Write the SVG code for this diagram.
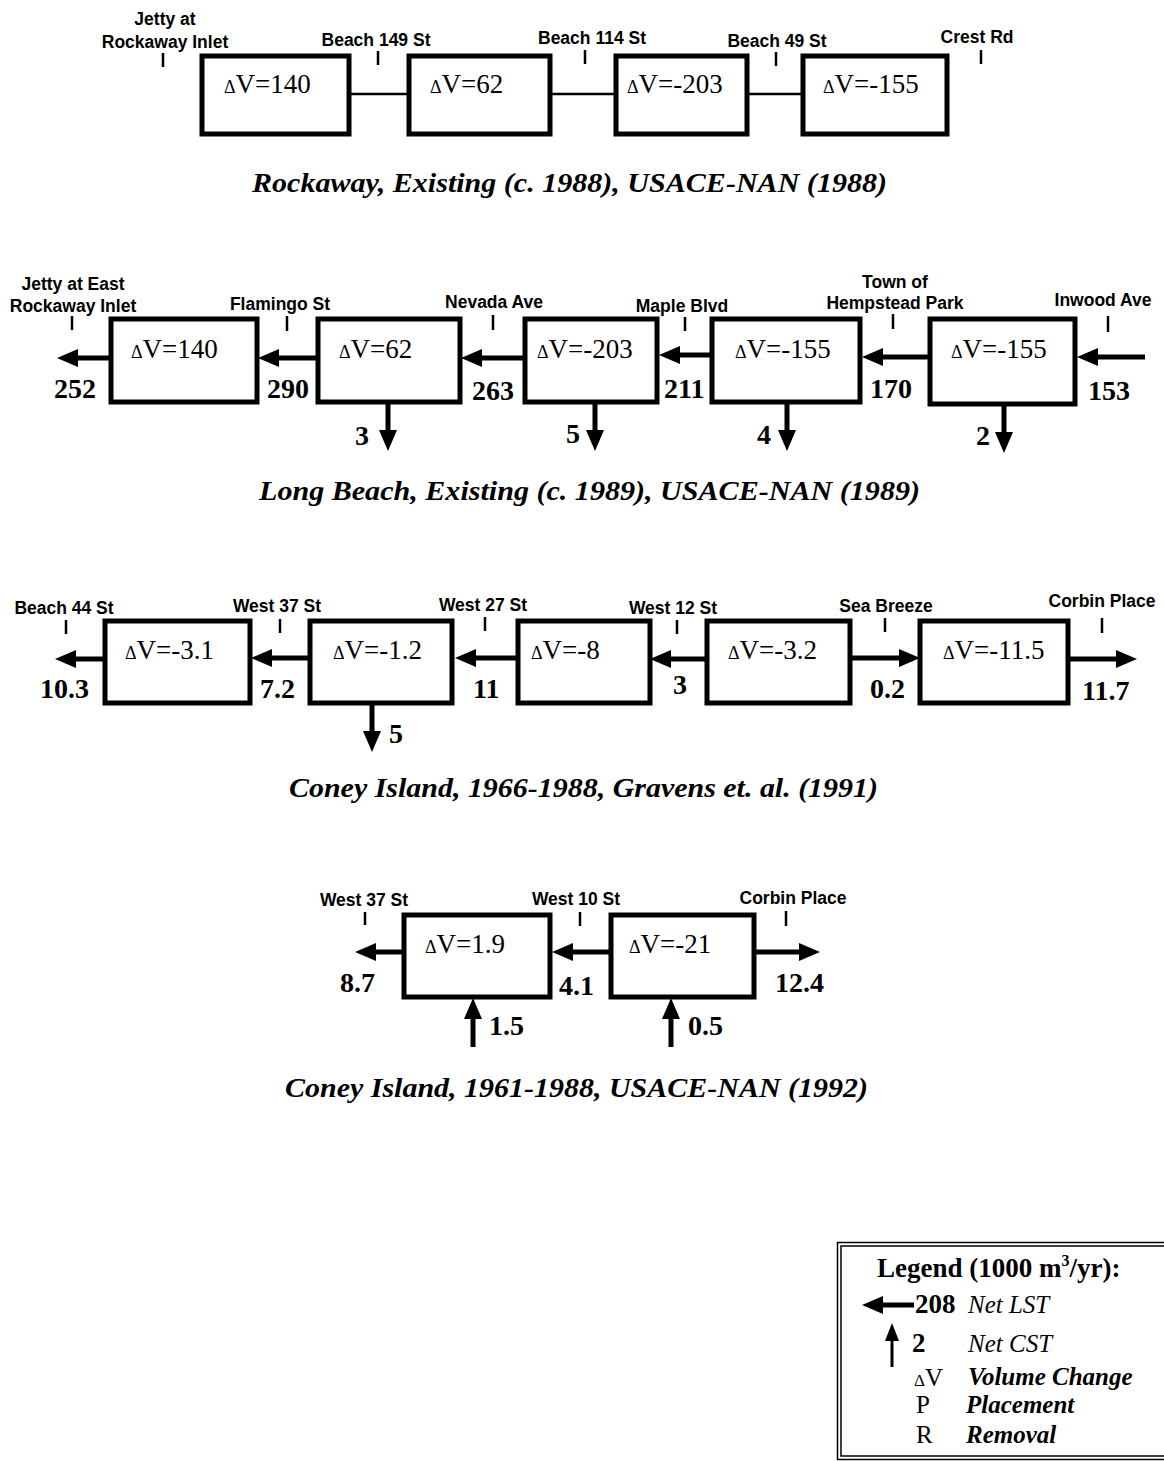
<svg xmlns="http://www.w3.org/2000/svg" width="1164" height="1461" viewBox="0 0 1164 1461">
<style>
.lbl{font-family:"Liberation Sans",Arial,sans-serif;font-weight:bold;font-size:17.5px;fill:#000;text-anchor:middle}
.dv{font-family:"Liberation Serif","Times New Roman",serif;font-size:27px;fill:#000}
.d{font-size:18px}
.num{font-family:"Liberation Serif","Times New Roman",serif;font-weight:bold;font-size:28px;fill:#000}
.title{font-family:"Liberation Serif","Times New Roman",serif;font-weight:bold;font-style:italic;font-size:27px;fill:#000;text-anchor:middle}
.box{fill:#fff;stroke:#000;stroke-width:5}
.tick{stroke:#000;stroke-width:2.5}
.link{stroke:#000;stroke-width:2.5;fill:none}
.arr{stroke:#000;stroke-width:5;fill:none;marker-end:url(#ah)}
.leg{font-family:"Liberation Serif","Times New Roman",serif;fill:#000}
</style>
<defs>
<marker id="ah" markerUnits="userSpaceOnUse" markerWidth="24" markerHeight="20" refX="3" refY="9" orient="auto">
<path d="M0,0 L21,9 L0,18 z" fill="#000"/>
</marker>
<marker id="ahs" markerUnits="userSpaceOnUse" markerWidth="20" markerHeight="16" refX="2" refY="7" orient="auto">
<path d="M0,0 L18,7 L0,14 z" fill="#000"/>
</marker>
</defs>

<!-- ===== Section 1: Rockaway ===== -->
<g id="rockaway-labels">
<text class="lbl" x="165" y="25">Jetty at</text>
<text class="lbl" x="165" y="48">Rockaway Inlet</text>
<line class="tick" x1="163" y1="53" x2="163" y2="67"/>
<text class="lbl" x="376" y="46">Beach 149 St</text>
<line class="tick" x1="378" y1="51" x2="378" y2="65"/>
<text class="lbl" x="592" y="44">Beach 114 St</text>
<line class="tick" x1="585" y1="50" x2="585" y2="64"/>
<text class="lbl" x="777" y="47">Beach 49 St</text>
<line class="tick" x1="776" y1="52" x2="776" y2="66"/>
<text class="lbl" x="977" y="43">Crest Rd</text>
<line class="tick" x1="981" y1="50" x2="981" y2="64"/>
</g>
<g id="rockaway-connectors">
<line class="link" x1="349" y1="94" x2="409" y2="94"/>
<line class="link" x1="550" y1="94" x2="616" y2="94"/>
<line class="link" x1="747" y1="94" x2="803" y2="94"/>
</g>
<g id="r-box1"><rect class="box" x="202" y="56" width="147" height="78"/><text class="dv" x="224" y="93"><tspan class="d">Δ</tspan>V=140</text></g>
<g id="r-box2"><rect class="box" x="409" y="56" width="141" height="78"/><text class="dv" x="430" y="93"><tspan class="d">Δ</tspan>V=62</text></g>
<g id="r-box3"><rect class="box" x="616" y="56" width="131" height="78"/><text class="dv" x="627" y="93"><tspan class="d">Δ</tspan>V=-203</text></g>
<g id="r-box4"><rect class="box" x="803" y="56" width="144" height="78"/><text class="dv" x="823" y="93"><tspan class="d">Δ</tspan>V=-155</text></g>
<text class="title" x="569.5" y="192" textLength="635" lengthAdjust="spacingAndGlyphs">Rockaway, Existing (c. 1988), USACE-NAN (1988)</text>

<!-- ===== Section 2: Long Beach ===== -->
<g id="lb-labels">
<text class="lbl" x="73" y="290">Jetty at East</text>
<text class="lbl" x="73" y="312">Rockaway Inlet</text>
<line class="tick" x1="72" y1="316" x2="72" y2="330"/>
<text class="lbl" x="280" y="310">Flamingo St</text>
<line class="tick" x1="287" y1="316" x2="287" y2="331"/>
<text class="lbl" x="494" y="308">Nevada Ave</text>
<line class="tick" x1="493" y1="315" x2="493" y2="330"/>
<text class="lbl" x="682" y="312">Maple Blvd</text>
<line class="tick" x1="685" y1="317" x2="685" y2="331"/>
<text class="lbl" x="895" y="288">Town of</text>
<text class="lbl" x="895" y="309">Hempstead Park</text>
<line class="tick" x1="893" y1="314" x2="893" y2="329"/>
<text class="lbl" x="1103" y="306">Inwood Ave</text>
<line class="tick" x1="1108" y1="316" x2="1108" y2="332"/>
</g>
<g id="lb-connectors">
<line class="arr" x1="110" y1="358" x2="75" y2="358"/>
<line class="arr" x1="318" y1="358" x2="276" y2="358"/>
<line class="arr" x1="525" y1="358" x2="479" y2="358"/>
<line class="arr" x1="712" y1="355" x2="677" y2="355"/>
<line class="arr" x1="930" y1="357" x2="880" y2="357"/>
<line class="arr" x1="1145" y1="357" x2="1095" y2="357"/>
<line class="arr" x1="388" y1="402" x2="388" y2="433"/>
<line class="arr" x1="595" y1="402" x2="595" y2="433"/>
<line class="arr" x1="787" y1="402" x2="787" y2="433"/>
<line class="arr" x1="1004" y1="404" x2="1004" y2="435"/>
</g>
<g id="lb-numbers">
<text class="num" x="54" y="398">252</text>
<text class="num" x="267" y="398">290</text>
<text class="num" x="472" y="400">263</text>
<text class="num" x="664" y="398">211</text>
<text class="num" x="870" y="398">170</text>
<text class="num" x="1088" y="400">153</text>
<text class="num" x="355" y="445">3</text>
<text class="num" x="566" y="443">5</text>
<text class="num" x="757" y="444">4</text>
<text class="num" x="976" y="445">2</text>
</g>
<g id="lb-box1"><rect class="box" x="111" y="319" width="146" height="83"/><text class="dv" x="131" y="358"><tspan class="d">Δ</tspan>V=140</text></g>
<g id="lb-box2"><rect class="box" x="318" y="319" width="142" height="83"/><text class="dv" x="339" y="358"><tspan class="d">Δ</tspan>V=62</text></g>
<g id="lb-box3"><rect class="box" x="525" y="319" width="132" height="83"/><text class="dv" x="537" y="358"><tspan class="d">Δ</tspan>V=-203</text></g>
<g id="lb-box4"><rect class="box" x="712" y="319" width="148" height="83"/><text class="dv" x="735" y="358"><tspan class="d">Δ</tspan>V=-155</text></g>
<g id="lb-box5"><rect class="box" x="930" y="319" width="145" height="85"/><text class="dv" x="951" y="358"><tspan class="d">Δ</tspan>V=-155</text></g>
<text class="title" x="589.5" y="500" textLength="661" lengthAdjust="spacingAndGlyphs">Long Beach, Existing (c. 1989), USACE-NAN (1989)</text>

<!-- ===== Section 3: Coney Island 1966-1988 ===== -->
<g id="ci1-labels">
<text class="lbl" x="64" y="614">Beach 44 St</text>
<line class="tick" x1="66" y1="620" x2="66" y2="634"/>
<text class="lbl" x="277" y="612">West 37 St</text>
<line class="tick" x1="280" y1="619" x2="280" y2="633"/>
<text class="lbl" x="483" y="611">West 27 St</text>
<line class="tick" x1="485" y1="617" x2="485" y2="631"/>
<text class="lbl" x="673" y="614">West 12 St</text>
<line class="tick" x1="677" y1="620" x2="677" y2="634"/>
<text class="lbl" x="886" y="612">Sea Breeze</text>
<line class="tick" x1="885" y1="618" x2="885" y2="632"/>
<text class="lbl" x="1102" y="607">Corbin Place</text>
<line class="tick" x1="1102" y1="618" x2="1102" y2="633"/>
</g>
<g id="ci1-connectors">
<line class="arr" x1="105" y1="659" x2="73" y2="659"/>
<line class="arr" x1="310" y1="658" x2="269" y2="658"/>
<line class="arr" x1="518" y1="658" x2="473" y2="658"/>
<line class="arr" x1="707" y1="659" x2="668" y2="659"/>
<line class="arr" x1="850" y1="658" x2="902" y2="658"/>
<line class="arr" x1="1068" y1="659" x2="1119" y2="659"/>
<line class="arr" x1="372" y1="703" x2="372" y2="734"/>
</g>
<g id="ci1-numbers">
<text class="num" x="40" y="698">10.3</text>
<text class="num" x="260" y="698">7.2</text>
<text class="num" x="473" y="698">11</text>
<text class="num" x="673" y="694">3</text>
<text class="num" x="870" y="698">0.2</text>
<text class="num" x="1082" y="700">11.7</text>
<text class="num" x="389" y="743">5</text>
</g>
<g id="ci1-box1"><rect class="box" x="105" y="621" width="145" height="82"/><text class="dv" x="125" y="659"><tspan class="d">Δ</tspan>V=-3.1</text></g>
<g id="ci1-box2"><rect class="box" x="310" y="621" width="142" height="82"/><text class="dv" x="333" y="659"><tspan class="d">Δ</tspan>V=-1.2</text></g>
<g id="ci1-box3"><rect class="box" x="518" y="621" width="132" height="82"/><text class="dv" x="531" y="659"><tspan class="d">Δ</tspan>V=-8</text></g>
<g id="ci1-box4"><rect class="box" x="707" y="621" width="143" height="82"/><text class="dv" x="728" y="659"><tspan class="d">Δ</tspan>V=-3.2</text></g>
<g id="ci1-box5"><rect class="box" x="920" y="621" width="148" height="82"/><text class="dv" x="943" y="659"><tspan class="d">Δ</tspan>V=-11.5</text></g>
<text class="title" x="583.5" y="797" textLength="589" lengthAdjust="spacingAndGlyphs">Coney Island, 1966-1988, Gravens et. al. (1991)</text>

<!-- ===== Section 4: Coney Island 1961-1988 ===== -->
<g id="ci2-labels">
<text class="lbl" x="364" y="906">West 37 St</text>
<line class="tick" x1="365" y1="912" x2="365" y2="925"/>
<text class="lbl" x="576" y="905">West 10 St</text>
<line class="tick" x1="580" y1="912" x2="580" y2="926"/>
<text class="lbl" x="793" y="904">Corbin Place</text>
<line class="tick" x1="786" y1="911" x2="786" y2="926"/>
</g>
<g id="ci2-connectors">
<line class="arr" x1="404" y1="952" x2="373" y2="952"/>
<line class="arr" x1="611" y1="952" x2="570" y2="952"/>
<line class="arr" x1="754" y1="952" x2="802" y2="952"/>
<line class="arr" x1="473" y1="1047" x2="473" y2="1016"/>
<line class="arr" x1="671" y1="1047" x2="671" y2="1016"/>
</g>
<g id="ci2-numbers">
<text class="num" x="340" y="992">8.7</text>
<text class="num" x="559" y="995">4.1</text>
<text class="num" x="775" y="992">12.4</text>
<text class="num" x="489" y="1035">1.5</text>
<text class="num" x="688" y="1035">0.5</text>
</g>
<g id="ci2-box1"><rect class="box" x="404" y="915" width="146" height="82"/><text class="dv" x="425" y="953"><tspan class="d">Δ</tspan>V=1.9</text></g>
<g id="ci2-box2"><rect class="box" x="611" y="915" width="143" height="82"/><text class="dv" x="629" y="953"><tspan class="d">Δ</tspan>V=-21</text></g>
<text class="title" x="576.5" y="1097" textLength="583" lengthAdjust="spacingAndGlyphs">Coney Island, 1961-1988, USACE-NAN (1992)</text>

<!-- ===== Legend ===== -->
<g id="legend">
<rect x="837.5" y="1242.5" width="330" height="217" fill="#fff" stroke="#000" stroke-width="1.5"/>
<rect x="841" y="1246" width="330" height="210" fill="none" stroke="#000" stroke-width="1.5"/>
<text class="leg" x="877" y="1277" font-size="27" font-weight="bold">Legend (1000 m<tspan dy="-11" font-size="16">3</tspan><tspan dy="11">/yr):</tspan></text>
<line class="arr" x1="914" y1="1305" x2="880" y2="1305"/>
<text class="leg" x="915" y="1313" font-size="27" font-weight="bold">208</text>
<text class="leg" x="968" y="1313" font-size="25" font-style="italic">Net LST</text>
<line x1="892" y1="1367" x2="892" y2="1339" stroke="#000" stroke-width="3" marker-end="url(#ahs)"/>
<text class="leg" x="912" y="1352" font-size="27" font-weight="bold">2</text>
<text class="leg" x="968" y="1352" font-size="25" font-style="italic">Net CST</text>
<text class="leg" x="914" y="1386" font-size="25"><tspan font-size="17">Δ</tspan>V</text>
<text class="leg" x="968" y="1385" font-size="25" font-style="italic" font-weight="bold">Volume Change</text>
<text class="leg" x="916" y="1413" font-size="25">P</text>
<text class="leg" x="966" y="1413" font-size="25" font-style="italic" font-weight="bold">Placement</text>
<text class="leg" x="916" y="1443" font-size="25">R</text>
<text class="leg" x="966" y="1443" font-size="25" font-style="italic" font-weight="bold">Removal</text>
</g>
</svg>
